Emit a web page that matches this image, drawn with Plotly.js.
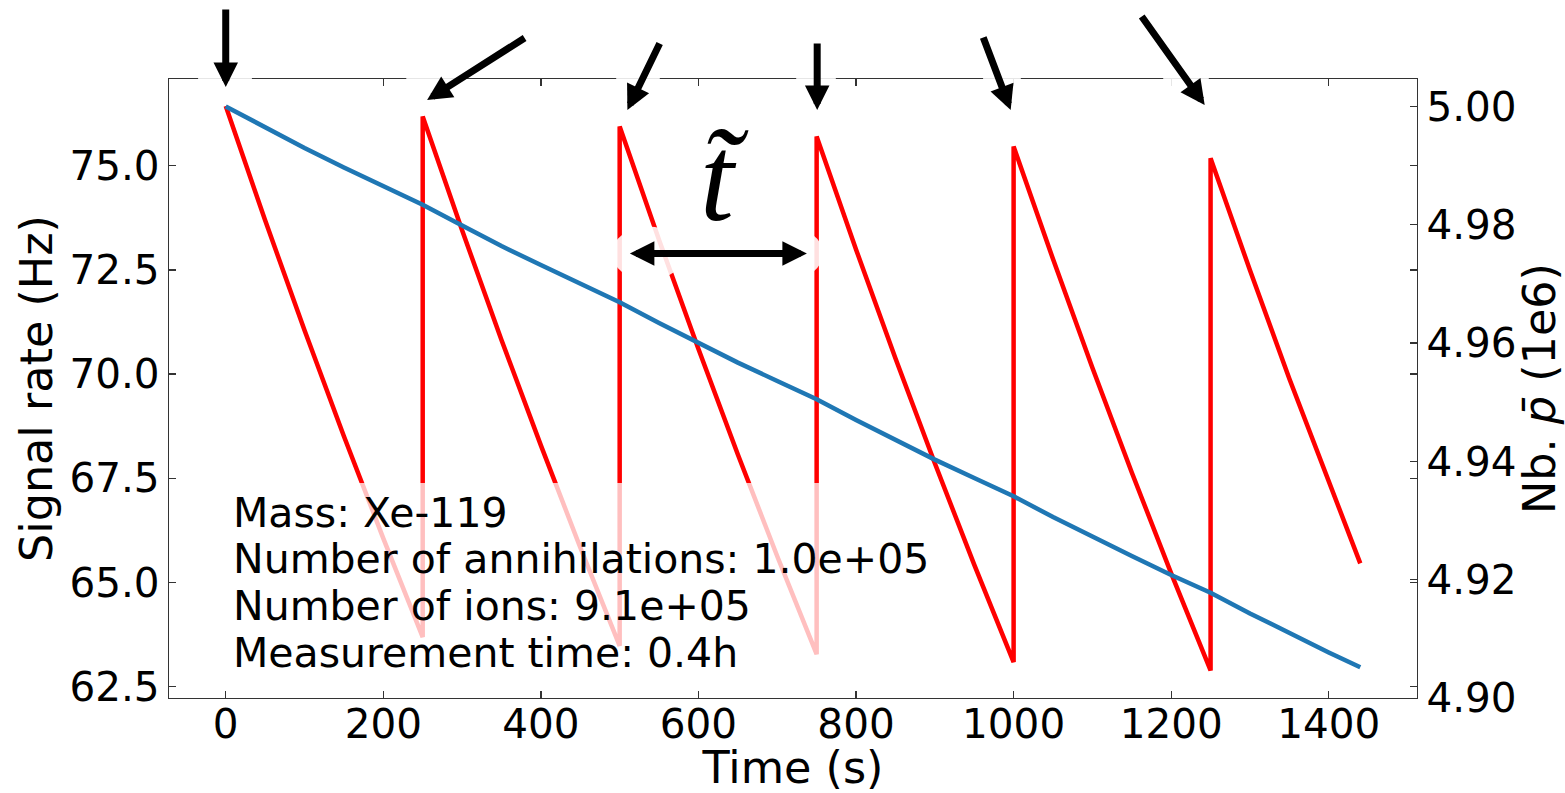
<!DOCTYPE html>
<html>
<head>
<meta charset="utf-8">
<script src="https://cdn.plot.ly/plotly-3.0.1.min.js"></script>
<style>html,body{margin:0;padding:0;background:#fff;}#chart{width:1565px;height:793px;}</style>
</head>
<body>
<div id="chart"></div>
<script>
// ---- data ----
const timeRate = [0, 50, 100, 150, 200, 250,
                  250, 300, 350, 400, 450, 500,
                  500, 550, 600, 650, 700, 750,
                  750, 800, 850, 900, 950, 1000,
                  1000, 1050, 1100, 1150, 1200, 1250,
                  1250, 1300, 1350, 1400, 1440];
const signalRate = [76.43, 73.69, 71.05, 68.51, 66.06, 63.69,
                    76.18, 73.45, 70.82, 68.29, 65.84, 63.48,
                    75.94, 73.22, 70.60, 68.07, 65.63, 63.28,
                    75.70, 72.99, 70.38, 67.86, 65.43, 63.09,
                    75.46, 72.76, 70.15, 67.64, 65.22, 62.89,
                    75.18, 72.49, 69.89, 67.39, 65.46];
const timeNb = [0, 50, 100, 150, 200, 250, 300, 350, 400, 450, 500, 550, 600, 650, 700, 750,
                800, 850, 900, 950, 1000, 1050, 1100, 1150, 1200, 1250, 1300, 1350, 1400, 1440];
const nbPbar = [5.0000, 4.9964, 4.9930, 4.9897, 4.9865, 4.9834, 4.9799, 4.9764, 4.9732, 4.9700,
                4.9669, 4.9634, 4.9600, 4.9567, 4.9536, 4.9505, 4.9470, 4.9436, 4.9403, 4.9372,
                4.9341, 4.9306, 4.9272, 4.9240, 4.9208, 4.9178, 4.9143, 4.9109, 4.9077, 4.9052];
const xTicks = [0, 200, 400, 600, 800, 1000, 1200, 1400];
const yTicks = [62.5, 65.0, 67.5, 70.0, 72.5, 75.0];
const y2Ticks = [4.90, 4.92, 4.94, 4.96, 4.98, 5.00];
const infoLines = ["Mass: Xe-119", "Number of annihilations: 1.0e+05",
                   "Number of ions: 9.1e+05", "Measurement time: 0.4h"];
const resetArrowTips = [0, 255.6, 509.8, 750.7, 996.3, 1242.5];

// ---- layout helpers ----
const W = 1565, H = 793;
const M = {l: 169, r: 148, t: 79, b: 95};
const PW = W - M.l - M.r, PH = H - M.t - M.b;
const px2paperX = px => (px - M.l) / PW;
const px2paperY = py => (H - M.b - py) / PH;

const FONT = "DejaVu Sans";
const FS_TICK = 40.5;
const FS_INFO = 41;
const FS_TITLE = 44.5;
const AXC = "#333";

const traces = [
  {x: timeRate, y: signalRate, type: "scatter", mode: "lines",
   line: {color: "#ff0000", width: 4.5}, yaxis: "y", hoverinfo: "skip"},
  {x: timeNb, y: nbPbar, type: "scatter", mode: "lines",
   line: {color: "#1f77b4", width: 4.5}, yaxis: "y2", hoverinfo: "skip"}
];

// arrows: pixel tip y and tail offsets
const arrowGeom = [
  {ty: 87, ax: 0, ay: -79},
  {ty: 100, ax: 99, ay: -63},
  {ty: 110, ax: 33, ay: -68},
  {ty: 110, ax: 0, ay: -68},
  {ty: 110, ax: -28, ay: -74},
  {ty: 105, ax: -64, ay: -90}
];

const annotations = [];
resetArrowTips.forEach((tx, i) => {
  const g = arrowGeom[i];
  annotations.push({x: tx, y: px2paperY(g.ty), xref: "x", yref: "paper",
    ax: g.ax, ay: g.ay, axref: "pixel", ayref: "pixel", text: "",
    showarrow: true, arrowhead: 2, arrowsize: 0.7, arrowwidth: 7, arrowcolor: "#000"});
});
// double arrow (t tilde)
annotations.push({x: 737.6, y: px2paperY(253.5), xref: "x", yref: "paper",
  ax: -178.5, ay: 0, axref: "pixel", ayref: "pixel", text: "",
  showarrow: true, arrowside: "end+start", arrowhead: 2, startarrowhead: 2,
  arrowsize: 0.7, startarrowsize: 0.7, arrowwidth: 7, arrowcolor: "#000"});
annotations.push({x: 632.5, y: px2paperY(178), xref: "x", yref: "paper",
  text: "<i>t\u0303</i>", showarrow: false, xanchor: "center", yanchor: "middle",
  font: {family: "Liberation Serif", size: 122, color: "#000"}});

// info text lines
const lineY = [512.7, 559.3, 606, 652.7];
infoLines.forEach((s, i) => {
  annotations.push({x: px2paperX(231), y: px2paperY(lineY[i]), xref: "paper", yref: "paper",
    text: s, showarrow: false, xanchor: "left", yanchor: "middle",
    font: {family: FONT, size: FS_INFO, color: "#000"}});
});

// shapes: semi-transparent info box + white halos
const shapes = [
  {type: "rect", xref: "paper", yref: "paper", x0: px2paperX(221), x1: px2paperX(933),
   y0: px2paperY(682), y1: px2paperY(483), fillcolor: "rgba(255,255,255,0.75)",
   line: {width: 0}, layer: "above"}
];
const halos = [
  [225, 79, 27, 11], [436, 80, 30, 12], [638, 80, 22, 12], [816, 80, 20, 12],
  [1002, 80, 19, 12], [1186, 80, 23, 12],
  [648, 253.5, 36, 27], [787, 253.5, 36, 27]
];
halos.forEach(h => {
  shapes.push({type: "circle", xref: "paper", yref: "paper",
    xsizemode: "pixel", ysizemode: "pixel",
    xanchor: px2paperX(h[0]), yanchor: px2paperY(h[1]),
    x0: -h[2], x1: h[2], y0: -h[3], y1: h[3],
    fillcolor: "rgba(255,255,255,0.88)", line: {width: 0}, layer: "above"});
});

const axisCommon = {
  showgrid: false, zeroline: false, showline: true, linecolor: AXC, linewidth: 1.3,
  ticks: "inside", ticklen: 7, tickwidth: 1.3, tickcolor: AXC,
  tickfont: {family: FONT, size: FS_TICK, color: "#000"}
};

const layout = {
  width: W, height: H,
  margin: M,
  paper_bgcolor: "#fff", plot_bgcolor: "#fff",
  font: {family: FONT, size: FS_TICK, color: "#000"},
  showlegend: false,
  xaxis: Object.assign({}, axisCommon, {
    range: [-72, 1512], tickvals: xTicks, ticktext: xTicks.map(String),
    mirror: "ticks", ticklabelstandoff: -10,
    title: {text: "Time (s)", font: {family: FONT, size: FS_TITLE}, standoff: 8}
  }),
  yaxis: Object.assign({}, axisCommon, {
    range: [62.229, 77.08], tickvals: yTicks, ticktext: yTicks.map(v => v.toFixed(1)),
    mirror: "ticks",
    title: {text: "Signal rate (Hz)", font: {family: FONT, size: FS_TITLE}, standoff: 2}
  }),
  yaxis2: Object.assign({}, axisCommon, {
    overlaying: "y", side: "right",
    range: [4.90, 5.00465], tickvals: y2Ticks, ticktext: y2Ticks.map(v => v.toFixed(2)),
    title: {text: "Nb. <i>p\u0304</i> (1e6)", font: {family: FONT, size: FS_TITLE}, standoff: 8}
  }),
  annotations: annotations,
  shapes: shapes
};

Plotly.newPlot("chart", traces, layout, {staticPlot: true, displayModeBar: false});
</script>
</body>
</html>
